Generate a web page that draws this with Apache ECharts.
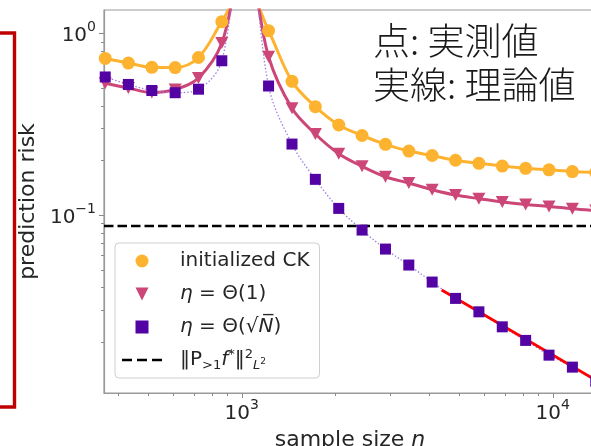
<!DOCTYPE html>
<html>
<head>
<meta charset="utf-8">
<script src="https://cdn.jsdelivr.net/npm/echarts@6/dist/echarts.min.js"></script>
<style>
  html, body { margin: 0; padding: 0; background: #fff; }
  #main { width: 591px; height: 446px; }
</style>
</head>
<body>
<div id="main"></div>
<script>
// sample sizes (log spaced)
var sampleN = [364, 432, 514, 611, 726, 863, 1026, 1220, 1451, 1725, 2051, 2438,
  2899, 3446, 4097, 4871, 5790, 6885, 8185, 9732, 11570, 13755];
// initialized CK
var ckRisk = [0.727, 0.686, 0.650, 0.648, 0.736, 1.158, 1.8, 1.033, 0.544, 0.3945, 0.313, 0.274,
  0.245, 0.225, 0.2126, 0.2002, 0.1925, 0.1861, 0.1807, 0.1773, 0.1735, 0.1714];
// eta = Theta(1)
var eta1Risk = [0.531, 0.500, 0.472, 0.491, 0.5675, 0.884, 2.8, 0.743, 0.3866, 0.2791, 0.2175, 0.1854,
  0.1625, 0.150, 0.1379, 0.1288, 0.1231, 0.1179, 0.1142, 0.1116, 0.1084, 0.1059];
// eta = Theta(sqrt N)
var etaNRisk = [0.575, 0.523, 0.4844, 0.471, 0.4925, 0.706, 4.5, 0.5128, 0.2458, 0.1572, 0.1088, 0.0827,
  0.0650, 0.0531, 0.0428, 0.0348, 0.02936, 0.02428, 0.02044, 0.01696, 0.01457, 0.0122];
// red 1/n fit
var fitN = [4395, 13780];
var fitRisk = [0.0387, 0.01234];
// ||P_{>1} f*||^2 level
var normLevel = 0.087;

var xLimits = [360.7, 13780];
var yLimits = [0.0105, 1.343];
var xMajorTicks = [1000, 10000];
var xMinorTicks = [400, 500, 600, 700, 800, 900, 2000, 3000, 4000, 5000, 6000, 7000, 8000, 9000];
var yMajorTicks = [0.1, 1];
var yMinorTicks = [0.02, 0.03, 0.04, 0.05, 0.06, 0.07, 0.08, 0.09, 0.2, 0.3, 0.4, 0.5, 0.6, 0.7, 0.8, 0.9];

var FONT = 'DejaVu Sans';
var TXT = '#262626';

function pairs(xs, ys) {
  var out = [];
  for (var i = 0; i < xs.length; i++) out.push([xs[i], ys[i]]);
  return out;
}

function powLabel(v) {
  var e = Math.log10(v);
  var r = Math.round(e);
  if (Math.abs(e - r) > 1e-6) return '';
  return '{b|10}{s|' + (r < 0 ? '\u2212' + (-r) : r) + '}';
}

var powRich = {
  b: { fontSize: 20, fontFamily: FONT, color: TXT, lineHeight: 26, verticalAlign: 'bottom' },
  s: { fontSize: 14, fontFamily: FONT, color: TXT, verticalAlign: 'top' }
};

var xTickData = xMajorTicks.map(function (v) { return [v, 1, 1]; })
  .concat(xMinorTicks.map(function (v) { return [v, 1, 0]; }));
var yTickData = yMajorTicks.map(function (v) { return [1000, v, 1]; })
  .concat(yMinorTicks.map(function (v) { return [1000, v, 0]; }));

var legendNames = {
  ck: 'initialized CK',
  eta1: '{i|\u03b7} = \u0398(1)',
  etaN: '{i|\u03b7} = \u0398(\u221a{i|N\u0305})',
  norm: '\u2016P{sub|>1}{i|f}{sup|*}\u2016{sup|2}{subi|L}{ss|2}'
};

var chart = echarts.init(document.getElementById('main'), null, { renderer: 'canvas' });

var option = {
  backgroundColor: '#fff',
  animation: false,
  grid: {
    left: 104, top: 10, right: -5, bottom: 53,
    show: true, borderColor: '#9a9a9a', borderWidth: 1.2,
    outerBoundsMode: 'none', containLabel: false
  },
  xAxis: {
    type: 'log',
    min: xLimits[0], max: xLimits[1],
    name: 'sample size {i|n}',
    nameLocation: 'middle',
    nameGap: 25,
    nameTextStyle: {
      fontSize: 22, fontFamily: FONT, color: TXT,
      rich: { i: { fontSize: 22, fontFamily: FONT, fontStyle: 'italic', color: TXT } }
    },
    axisLine: { onZero: false, lineStyle: { color: '#9a9a9a', width: 1.2 } },
    axisTick: { show: false },
    splitLine: { show: false },
    axisLabel: { formatter: powLabel, margin: 5, rich: powRich }
  },
  yAxis: {
    type: 'log',
    min: yLimits[0], max: yLimits[1],
    name: 'prediction risk',
    nameLocation: 'middle',
    nameGap: 52,
    nameTextStyle: { fontSize: 22, fontFamily: FONT, color: TXT },
    axisLine: { onZero: false, lineStyle: { color: '#9a9a9a', width: 1.2 } },
    axisTick: { show: false },
    splitLine: { show: false },
    axisLabel: { formatter: powLabel, margin: 8, rich: powRich }
  },
  legend: {
    orient: 'vertical',
    left: 115, top: 243,
    selectedMode: false,
    itemWidth: 40, itemHeight: 13, itemGap: 9,
    padding: [6, 10, 6, 7],
    backgroundColor: 'rgba(255,255,255,0.85)',
    borderColor: '#cfcfcf', borderWidth: 1, borderRadius: 4,
    data: [
      { name: 'ck', icon: 'circle' },
      { name: 'eta1', icon: 'path://M0,0L2,0L1,2Z' },
      { name: 'etaN', icon: 'path://M0,0h2v2h-2z' },
      { name: 'norm', icon: 'path://M0,0h10v2.6h-10zM15,0h10v2.6h-10zM30,0h10v2.6h-10z' }
    ],
    formatter: function (name) { return legendNames[name]; },
    textStyle: {
      fontSize: 20, fontFamily: FONT, color: TXT, lineHeight: 24, padding: [0, 0, 0, 13],
      rich: {
        i: { fontSize: 20, fontFamily: FONT, fontStyle: 'italic', color: TXT, lineHeight: 24 },
        sup: { fontSize: 13, fontFamily: FONT, color: TXT, verticalAlign: 'top' },
        sub: { fontSize: 13, fontFamily: FONT, color: TXT, verticalAlign: 'bottom' },
        subi: { fontSize: 13, fontFamily: FONT, fontStyle: 'italic', color: TXT, verticalAlign: 'bottom' },
        ss: { fontSize: 9, fontFamily: FONT, color: TXT, verticalAlign: 'bottom', padding: [0, 0, 6, 0] }
      }
    }
  },
  series: [
    {
      name: 'ck', type: 'line', data: pairs(sampleN, ckRisk),
      smooth: 0.35, symbol: 'circle', symbolSize: 13,
      itemStyle: { color: '#fdb32f', borderWidth: 0 },
      lineStyle: { color: '#fdb32f', width: 3 }
    },
    {
      name: 'eta1', type: 'line', data: pairs(sampleN, eta1Risk),
      smooth: 0.35, symbol: 'path://M0,0L2,0L1,2Z', symbolSize: [13, 12],
      itemStyle: { color: '#cc4778', borderWidth: 0 },
      lineStyle: { color: '#cc4778', width: 3 }
    },
    {
      name: 'etaN', type: 'line', data: pairs(sampleN, etaNRisk),
      smooth: 0.35, symbol: 'rect', symbolSize: 11,
      itemStyle: { color: '#5302a3', borderWidth: 0 },
      lineStyle: { color: '#a27be6', width: 1.3, type: [1.5, 2] }
    },
    {
      name: 'norm', type: 'line', data: pairs(xLimits, [normLevel, normLevel]),
      symbol: 'none',
      itemStyle: { color: '#000' },
      lineStyle: { color: '#000', width: 2.6, type: [9.5, 4] }
    },
    {
      name: 'fit', type: 'line', data: pairs(fitN, fitRisk),
      symbol: 'none',
      lineStyle: { color: '#ff0000', width: 2.8 }
    },
    {
      name: 'xticks', type: 'custom', data: xTickData, silent: true,
      renderItem: function (params, api) {
        var cs = params.coordSys;
        var x = Math.round(api.coord([api.value(0), 1])[0]) + 0.5;
        var y = cs.y + cs.height;
        var len = api.value(2) ? 5 : 3;
        return { type: 'line', shape: { x1: x, y1: y, x2: x, y2: y + len }, style: { stroke: '#8a8a8a', lineWidth: 1 } };
      }
    },
    {
      name: 'yticks', type: 'custom', data: yTickData, silent: true,
      renderItem: function (params, api) {
        var cs = params.coordSys;
        var y = Math.round(api.coord([1000, api.value(1)])[1]) + 0.5;
        var x = cs.x;
        var len = api.value(2) ? 5 : 3;
        return { type: 'line', shape: { x1: x - len, y1: y, x2: x, y2: y }, style: { stroke: '#8a8a8a', lineWidth: 1 } };
      }
    }
  ],
  graphic: [
    {
      type: 'polyline',
      shape: { points: [[0, 33], [14.5, 33], [14.5, 407], [0, 407]] },
      style: { stroke: '#c00000', lineWidth: 3.4, fill: null }
    },
    {
      type: 'text', left: 373, top: 19,
      style: {
        text: '点: 実測値\n実線: 理論値',
        font: '300 37px "Noto Sans CJK JP"',
        lineHeight: 44,
        fill: '#1a1a1a'
      }
    }
  ]
};

chart.setOption(option);
</script>
</body>
</html>
